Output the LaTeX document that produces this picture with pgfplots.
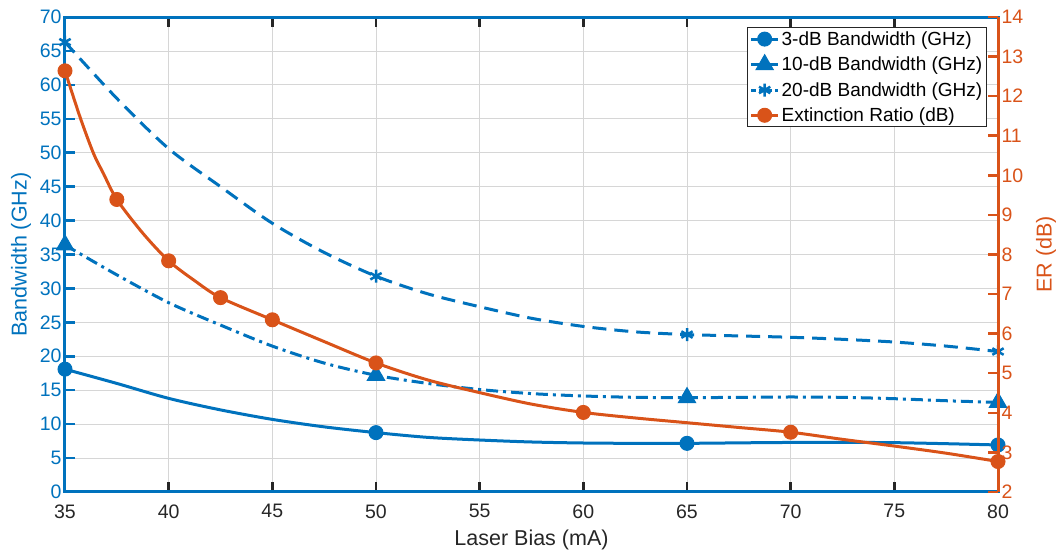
\documentclass[border=0pt]{standalone}
\usepackage{fontspec}
\setmainfont{Liberation Sans}
\usepackage{pgfplots}
\pgfplotsset{compat=1.18}
\definecolor{mblue}{rgb}{0,0.447,0.741}
\definecolor{morange}{rgb}{0.85,0.325,0.098}
\definecolor{mgray}{rgb}{0.15,0.15,0.15}
\begin{document}
\begin{tikzpicture}
\useasboundingbox (-65pt,-61pt) rectangle (998pt,492pt);
\pgfplotsset{
  common/.style={
    scale only axis, width=933pt, height=475pt,
    at={(0pt,0pt)}, anchor=south west,
    xmin=35, xmax=80,
    tick align=inside,
    major tick length=10pt,
    /pgf/number format/assume math mode=true,
    ticklabel style={font=\fontsize{19.5}{22}\selectfont},
    label style={font=\fontsize{21.5}{24}\selectfont},
  },
  legend image code/.code={
    \draw[mark repeat=2,mark phase=2,#1] plot coordinates {(0pt,0pt)(13.5pt,0pt)(27pt,0pt)};
  },
  bw3/.style={mblue, line width=3pt},
  bw10/.style={mblue, line width=3pt, dash pattern=on 12pt off 5pt on 3pt off 5pt},
  bw20/.style={mblue, line width=3pt, dash pattern=on 14pt off 8pt},
  er/.style={morange, line width=3pt},
}
\begin{axis}[common,
  ymin=0, ymax=70, ytick={0,5,...,70}, xtick={35,40,...,80},
  xtick pos=both, ytick pos=left,
  grid=major, grid style={line width=0.8pt, color=black!16},
  x axis line style={mgray, line width=3pt},
  y axis line style={mblue, line width=3pt},
  x tick style={mgray, line width=2.5pt},
  y tick style={mblue, line width=2.5pt},
  xticklabel style={mgray, yshift=-9pt},
  yticklabel style={mblue},
  xlabel={Laser Bias (mA)}, ylabel={Bandwidth (GHz)},
  xlabel style={mgray, at={(axis description cs:0.5,-0.101)}, anchor=center},
  ylabel style={mblue, at={(axis description cs:-0.047,0.5)}, anchor=center},
]
% 3-dB bandwidth: curve and data markers
\addplot[bw3, smooth, no markers] coordinates {
  (35,18.1)(37.5,16.0)(40,13.8)(42.5,12.1)(45,10.7)(47.5,9.6)(50,8.75)
  (52.5,8.05)(55,7.66)(57.5,7.37)(60,7.22)(62.5,7.17)(65,7.17)
  (70,7.3)(75,7.27)(80,6.93)};
\addplot[only marks, mark=*, mark size=7pt, mark options={mblue, line width=1pt, fill=mblue}]
  coordinates {(35,18.1)(50,8.75)(65,7.17)(80,6.93)};
% 10-dB bandwidth
\addplot[bw10, smooth, no markers] coordinates {
  (35,36.4)(37.5,32.0)(40,27.9)(42.5,24.6)(45,21.5)(47.5,19.0)(50,17.2)
  (52.5,16.0)(55,15.1)(57.5,14.5)(60,14.15)(62.5,13.95)(65,13.9)
  (67.5,13.95)(70,14.0)(72.5,13.95)(75,13.75)(77.5,13.45)(80,13.2)};
\addplot[only marks, mark=triangle*, mark size=10pt, mark options={mblue, line width=1pt, fill=mblue}]
  coordinates {(35,36.4)(50,17.2)(65,13.9)(80,13.2)};
% 20-dB bandwidth
\addplot[bw20, smooth, no markers] coordinates {
  (35,66.3)(37.5,58.0)(40,50.6)(42.5,45.0)(45,39.6)(47.5,35.3)(50,31.8)
  (52.5,29.2)(55,27.3)(57.5,25.6)(60,24.4)(62.5,23.6)(65,23.2)
  (67.5,23.0)(70,22.8)(72.5,22.5)(75,22.1)(77.5,21.5)(80,20.7)};
\addplot[only marks, mark=asterisk, mark size=6.5pt, mark options={mblue, line width=2.5pt}]
  coordinates {(35,66.3)(50,31.8)(65,23.2)(80,20.7)};
\end{axis}
\begin{axis}[common,
  ymin=2, ymax=14, ytick={2,3,...,14},
  axis y line*=right, axis x line=none,
  y axis line style={morange, line width=3pt},
  y tick style={morange, line width=2.5pt},
  yticklabel style={morange},
  ylabel={ER (dB)},
  ylabel style={morange, at={(axis description cs:1.0514,0.5)}, anchor=center, rotate=0},
  legend style={font=\fontsize{19}{22}\selectfont, draw=mgray, line width=1pt,
    fill=white, at={(0.988,0.979)}, anchor=north east, inner sep=2pt, row sep=6pt},
  legend cell align=left,
]
\addlegendimage{bw3, mark=*, mark size=7pt, mark options={solid, line width=1pt, fill=mblue}}
\addlegendentry{3-dB Bandwidth (GHz)}
\addlegendimage{mblue, line width=3pt, mark=triangle*, mark size=10pt, mark options={solid, line width=1pt, fill=mblue}}
\addlegendentry{10-dB Bandwidth (GHz)}
\addlegendimage{mblue, line width=3pt, dash pattern=on 5pt off 3pt, mark=asterisk, mark size=6.5pt, mark options={solid, line width=2.5pt}}
\addlegendentry{20-dB Bandwidth (GHz)}
\addlegendimage{er, mark=*, mark size=7pt, mark options={solid, line width=1pt, fill=morange}}
\addlegendentry{Extinction Ratio (dB)}
\addplot[er, smooth, no markers, forget plot] coordinates {
  (35,12.64)(35.72,11.48)(36.37,10.56)(36.85,10.05)(37.5,9.39)(38.75,8.54)
  (40,7.84)(41.25,7.34)(42.5,6.91)(45,6.35)(47.5,5.80)(50,5.26)
  (52.5,4.83)(55,4.51)(57.5,4.22)(60,4.01)(62.5,3.87)(65,3.75)
  (67.5,3.63)(70,3.51)(72.5,3.33)(75,3.16)(77.5,2.98)(80,2.77)};
\addplot[only marks, forget plot, mark=*, mark size=7pt, mark options={morange, line width=1pt, fill=morange}]
  coordinates {(35,12.64)(37.5,9.39)(40,7.84)(42.5,6.91)(45,6.35)(50,5.26)(60,4.01)(70,3.51)(80,2.77)};
\end{axis}
\end{tikzpicture}
\end{document}
